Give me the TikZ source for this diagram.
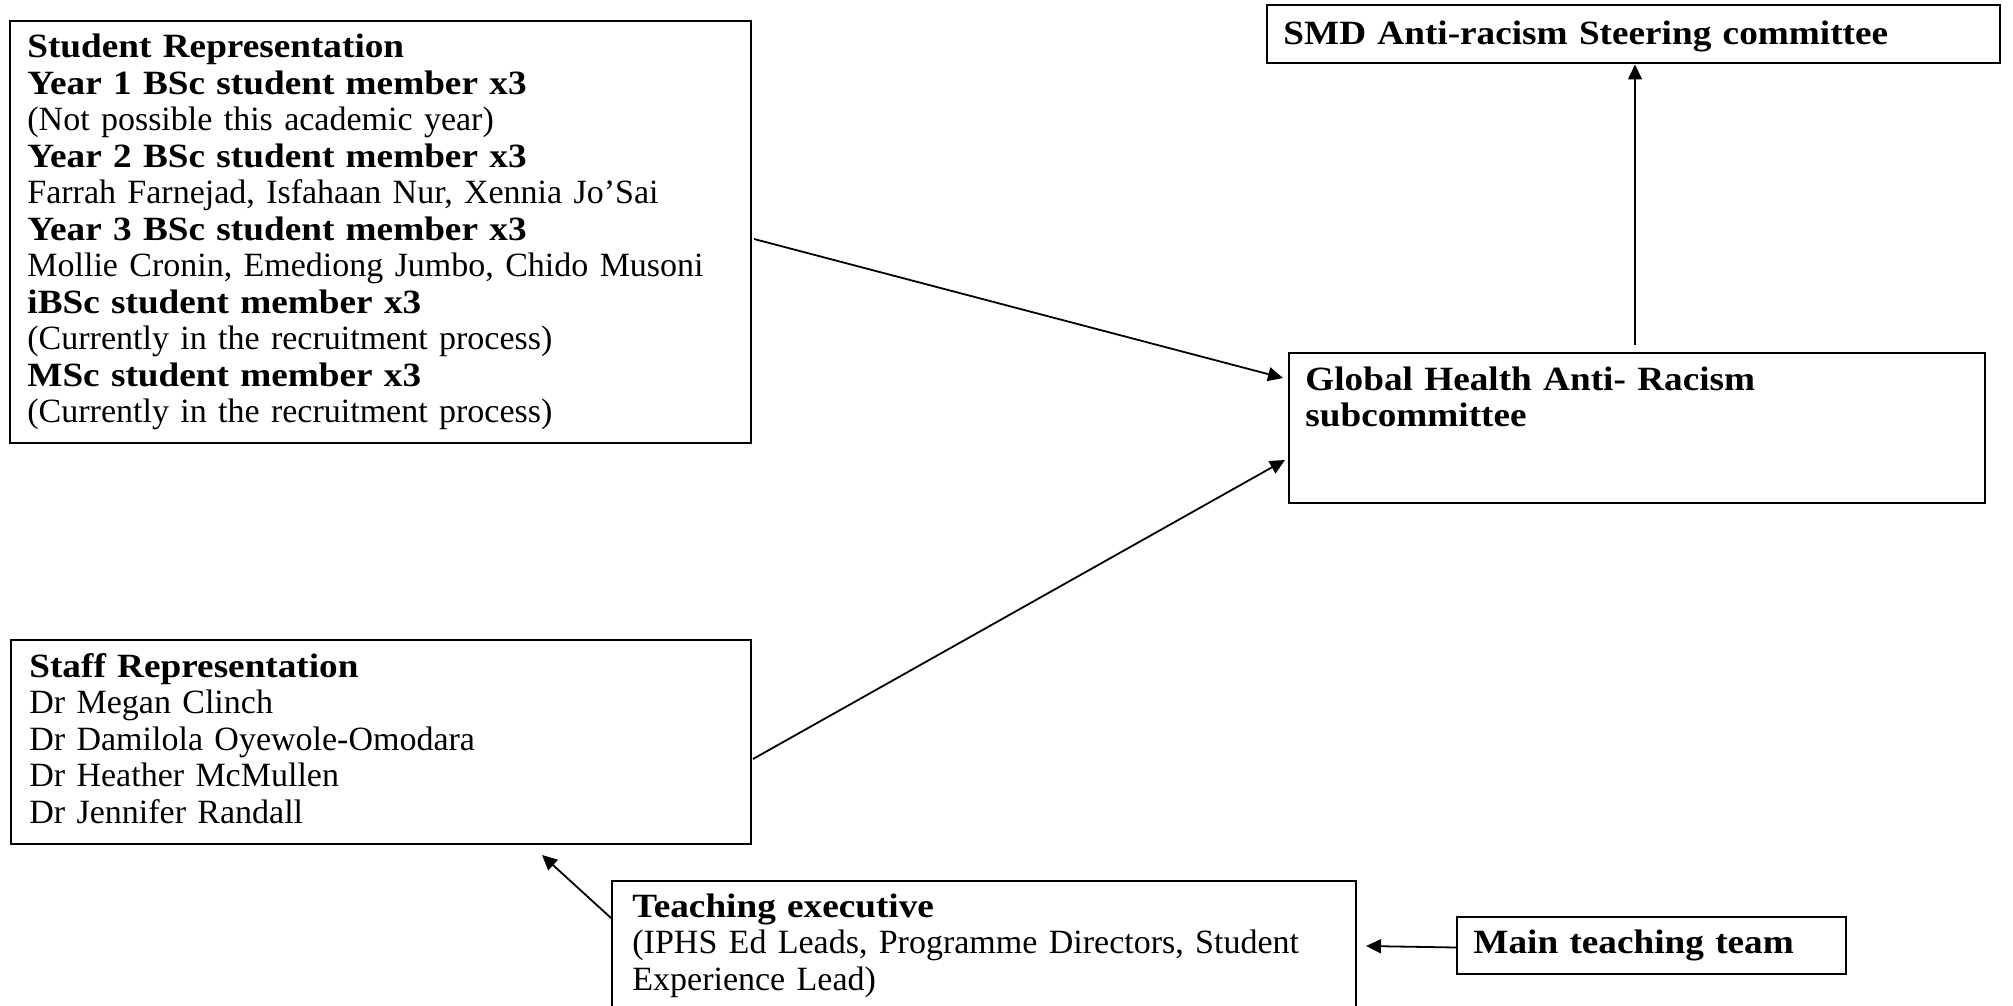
\documentclass[tikz,border=0pt]{standalone}
\usepackage{fontspec}
\setmainfont{Liberation Serif}[FakeStretch=1.0, BoldFeatures={FakeStretch=1.095}]
\usetikzlibrary{arrows.meta,calc}
\begin{document}
\begin{tikzpicture}[x=0.5pt,y=-0.5pt,
  box/.style={draw, line width=1pt, inner sep=0pt, anchor=north west},
  txt/.style={anchor=base west, inner sep=0pt, align=left,
    font=\fontsize{17}{18.25}\selectfont},
  link/.style={line width=0.9pt, -{Triangle[length=7.5pt,width=7pt]}}]
\clip (0,0) rectangle (2013,1006);
\fill[white] (0,0) rectangle (2013,1006);

% boxes
\node[box, minimum width=370.5pt, minimum height=211pt] (student) at (9,20) {};
\node[box, minimum width=366.5pt, minimum height=29pt] (smd) at (1266,4.5) {};
\node[box, minimum width=348pt, minimum height=75pt] (global) at (1288,352) {};
\node[box, minimum width=370pt, minimum height=102pt] (staff) at (10,639) {};
\node[box, minimum width=372pt, minimum height=70pt] (teaching) at (611,880) {};
\node[box, minimum width=194.5pt, minimum height=28.5pt] (main) at (1456,916) {};

% texts
\node[txt, text width=360pt] (studenttext) at (27,58) {%
  \textbf{Student Representation}\\
  \textbf{Year 1 BSc student member x3}\\
  (Not possible this academic year)\\
  \textbf{Year 2 BSc student member x3}\\
  Farrah Farnejad, Isfahaan Nur, Xennia Jo’Sai\\
  \textbf{Year 3 BSc student member x3}\\
  Mollie Cronin, Emediong Jumbo, Chido Musoni\\
  \textbf{iBSc student member x3}\\
  (Currently in the recruitment process)\\
  \textbf{MSc student member x3}\\
  (Currently in the recruitment process)};
\node[txt, text width=360pt] (smdtext) at (1283,45) {\textbf{SMD Anti-racism Steering committee}};
\node[txt, text width=330pt] (globaltext) at (1305,390) {%
  \textbf{Global Health Anti- Racism}\\
  \textbf{subcommittee}};
\node[txt, text width=360pt] (stafftext) at (29,677) {%
  \textbf{Staff Representation}\\
  Dr Megan Clinch\\
  Dr Damilola Oyewole-Omodara\\
  Dr Heather McMullen\\
  Dr Jennifer Randall};
\node[txt, text width=360pt] (teachingtext) at (632,917) {%
  \textbf{Teaching executive}\\
  (IPHS Ed Leads, Programme Directors, Student\\
  Experience Lead)};
\node[txt, text width=185pt] (maintext) at (1473,953) {\textbf{Main teaching team}};

% connectors
\draw[link] ($(student.east)+(2,7)$) -- ($(global.north west)+(-5,26)$);
\draw[link] ($(staff.east)+(1,17)$) -- ($(global.north west)+(-3,108)$);
\coordinate (up) at ($(global.north)+(-2,-7)$);
\draw[link] (up) -- (up |- smd.south);
\draw[link] ($(teaching.north west)+(0,38)$) -- ($(staff.south east)+(-210,10)$);
\draw[link] ($(main.west)+(0,2)$) -- ($(teaching.north east)+(9,66)$);
\end{tikzpicture}
\end{document}
